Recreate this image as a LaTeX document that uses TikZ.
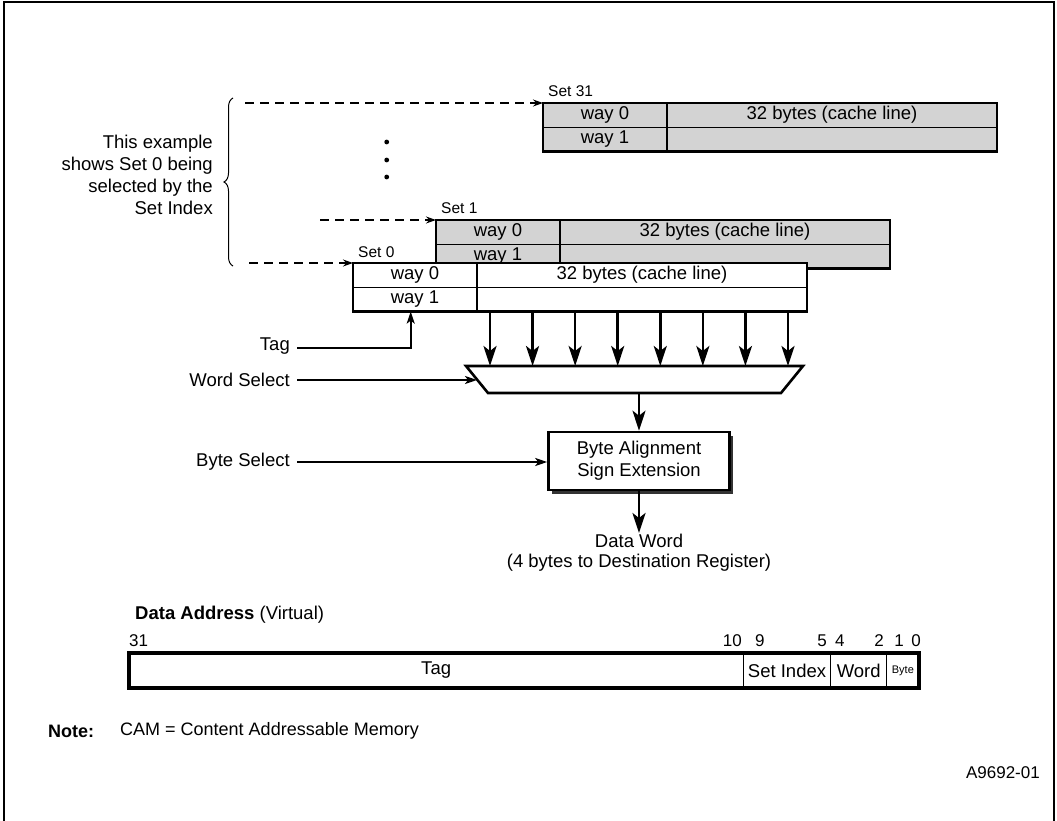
\documentclass[tikz,border=0pt]{standalone}
\usepackage{fontspec}
\setmainfont{Liberation Sans}
\usetikzlibrary{arrows.meta,decorations.pathreplacing,calc,shadows}
\definecolor{cellgray}{RGB}{211,211,211}

\newcommand{\cacheset}[5]{% #1 name, #2 left x, #3 top y, #4 label, #5 fill
  \node[cell, fill=#5, minimum width=124pt] (#1w0) at (#2,#3) {way 0};
  \node[cell, fill=#5, minimum width=330pt] (#1d0) at (#1w0.north east) {32 bytes (cache line)};
  \node[cell, fill=#5, minimum width=124pt] (#1w1) at (#1w0.south west) {way 1};
  \node[cell, fill=#5, minimum width=330pt] (#1d1) at (#1w1.north east) {};
  \draw[line width=2.6pt] (#1w0.north west) rectangle (#1d1.south east);
  \node[setlbl] (#1lbl) at ($(#1w0.north west)+(5,-6)$) {#4};
}

\begin{document}
\begin{tikzpicture}[x=1pt,y=-1pt,
  every node/.style={font=\fontsize{18.5}{22}\selectfont},
  cell/.style={draw, line width=1.2pt, minimum height=24.3pt, inner sep=0pt, outer sep=0pt, anchor=north west},
  setlbl/.style={anchor=base west, inner sep=0pt, font=\fontsize{15.5}{18}\selectfont},
  lbl/.style={anchor=east, inner sep=0pt},
  dasharr/.style={line width=1.2pt, dash pattern=on 9pt off 6pt, -{Stealth[length=10pt,width=7pt]}},
  bigarr/.style={line width=2.6pt, -{Stealth[length=20pt,width=13pt,inset=5pt]}},
  smallarr/.style={line width=2pt, -{Stealth[length=12pt,width=8pt,inset=3pt]}},
  frame/.style={line width=2.5pt},
  num/.style={inner sep=0pt, font=\fontsize{17}{20}\selectfont},
  regcell/.style={draw, line width=1pt, minimum height=35pt, inner sep=0pt, outer sep=0pt, anchor=north west}
]
\useasboundingbox (0,0) rectangle (1057,821);
\draw[frame] (4,821) -- (4,2) -- (1054,2) -- (1054,821);

% cache sets
\cacheset{s31}{543}{103}{Set 31}{cellgray}
\cacheset{s1}{436}{220}{Set 1}{cellgray}
\cacheset{s0}{353}{263}{Set 0}{white}

% dots
\foreach \yy in {142,160,177} \fill (386.7,\yy) circle (2.4pt);

% dashed arrows
\coordinate (d31) at (245,103);
\coordinate (d1) at (320,220);
\coordinate (d0) at (249,263);
\draw[dasharr] (d31) -- (s31w0.north west);
\draw[dasharr] (d1) -- (s1w0.north west);
\draw[dasharr] (d0) -- (s0w0.north west);

% brace and explanation
\coordinate (brb) at (233,266);
\coordinate (brt) at (233,98);
\draw[line width=1pt, decorate, decoration={brace, amplitude=9pt}] (brb) -- (brt);
\node[lbl, align=right] (expl) at (213,175) {This example\\shows Set 0 being\\selected by the\\Set Index};

% multiplexer
\coordinate (muxTL) at (466,366);
\coordinate (muxTR) at (803,366);
\coordinate (muxBR) at (781,393);
\coordinate (muxBL) at (488,393);
\coordinate (muxOut) at (639,393);
\draw[line width=2.6pt, line join=miter] (muxTL) -- (muxTR) -- (muxBR) -- (muxBL) -- cycle;

\foreach \i in {0,...,7} {
  \pgfmathsetmacro\xx{490+\i*42.57}
  \draw[bigarr] (\xx,0 |- s0w1.south) -- (\xx,0 |- muxTL);
}

% byte alignment box
\node[draw, line width=2.6pt, fill=white, minimum width=181pt, minimum height=58pt, align=center,
  drop shadow={shadow xshift=3.5pt, shadow yshift=-3.5pt, fill=black!80, opacity=1}] (bab) at (639,461)
  {Byte Alignment\\Sign Extension};
\draw[bigarr] (muxOut) -- (bab.north);

\node[inner sep=1pt] (dw) at (639,541) {Data Word};
\node[inner sep=1pt] (dw2) at (639,563) {(4 bytes to Destination Register)};
\draw[bigarr] (bab.south) -- (dw.north);

% left labels
\node[lbl] (tagl) at (290,346) {Tag};
\node[lbl] (wsl) at (290,380) {Word Select};
\node[lbl] (bsl) at (290,462) {Byte Select};
\coordinate (tagup) at (410.7,0 |- s0w1.south);
\coordinate (tagstart) at ($(tagl.east)+(7,1.5)$);
\draw[smallarr] (tagstart) -| (tagup);
\coordinate (wsin) at (477,380);
\coordinate (wsstart) at ($(wsl.east)+(7,0)$);
\draw[smallarr] (wsstart) -- (wsin);
\coordinate (bsstart) at ($(bsl.east)+(7,0)$);
\draw[smallarr] (bsstart) -- (bsstart -| bab.west);

% data address register
\node[anchor=west, inner sep=0pt] (dal) at (135,615) {\textbf{Data Address} (Virtual)};
\node[regcell, minimum width=614.3pt] (rtag) at (129,653) {Tag};
\node[regcell, minimum width=87.4pt] (rset) at (rtag.north east) {Set Index};
\node[regcell, minimum width=56pt] (rword) at (rset.north east) {Word};
\node[regcell, minimum width=32.3pt, font=\fontsize{11}{12}\selectfont] (rbyte) at (rword.north east) {Byte};
\draw[line width=3.6pt] (rtag.north west) rectangle (rbyte.south east);

\node[num, anchor=west] (n31) at (129,641) {31};
\node[num, anchor=east] (n10) at (742,641) {10};
\node[num, anchor=west] (n9) at (755,641) {9};
\node[num, anchor=east] (n5) at (827,641) {5};
\node[num, anchor=west] (n4) at (835,641) {4};
\node[num] (n2) at (879,641) {2};
\node[num] (n1) at (899,641) {1};
\node[num] (n0) at (916,641) {0};

% note and id
\node[anchor=west, inner sep=0pt, font=\bfseries\fontsize{18}{20}\selectfont] (notelbl) at (48,731) {Note:};
\node[anchor=west, inner sep=0pt, font=\fontsize{18}{20}\selectfont] (note) at (120,731) {CAM = Content Addressable Memory};
\node[anchor=east, inner sep=0pt, font=\fontsize{17}{20}\selectfont] (fid) at (1040,773) {A9692-01};
\end{tikzpicture}
\end{document}
